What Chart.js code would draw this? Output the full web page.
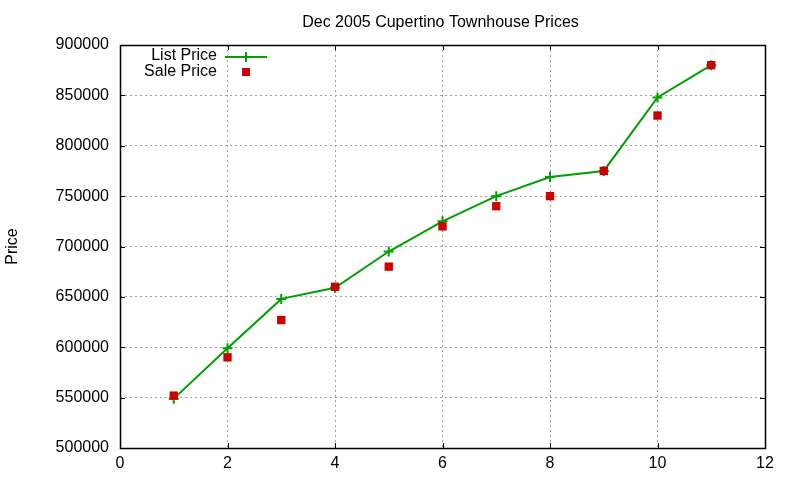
<!DOCTYPE html>
<html>
<head>
<meta charset="utf-8">
<script src="https://cdn.jsdelivr.net/npm/chart.js@4.4.1/dist/chart.umd.min.js"></script>
<style>
  html, body { margin: 0; padding: 0; background: #ffffff; }
  #wrap { width: 800px; height: 480px; }
</style>
</head>
<body>
<div id="wrap"><canvas id="c" width="800" height="480"></canvas></div>
<script>
// ---- data ----
const months = [1, 2, 3, 4, 5, 6, 7, 8, 9, 10, 11];
const listPrice = [549000, 599000, 648000, 659000, 695000, 725000, 750000, 769000, 775000, 848000, 880000];
const salePrice = [552000, 590000, 627000, 660000, 680000, 720000, 740000, 750000, 775000, 830000, 880000];
const chartTitle = 'Dec 2005 Cupertino Townhouse Prices';
const yTitle = 'Price';
const seriesNames = ['List Price', 'Sale Price'];

const GREEN = '#00a000';
const RED = '#cc0000';
const FONT = 'Liberation Sans, Arial, sans-serif';
const FS = 16;

const bgPlugin = {
  id: 'bg',
  beforeDraw(chart) {
    const ctx = chart.ctx;
    ctx.save();
    ctx.fillStyle = '#ffffff';
    ctx.fillRect(0, 0, chart.width, chart.height);
    ctx.restore();
  }
};

const framePlugin = {
  id: 'frame',
  afterDatasetsDraw(chart) {
    const ctx = chart.ctx;
    const a = chart.chartArea;
    const xs = chart.scales.x, ys = chart.scales.y;
    ctx.save();
    ctx.strokeStyle = '#000000';
    ctx.lineWidth = 1;
    ctx.beginPath();
    ys.ticks.forEach(t => {
      const py = Math.round(ys.getPixelForValue(t.value)) + 0.5;
      ctx.moveTo(a.left, py); ctx.lineTo(a.left + 5, py);
      ctx.moveTo(a.right, py); ctx.lineTo(a.right - 5, py);
    });
    xs.ticks.forEach(t => {
      const px = Math.round(xs.getPixelForValue(t.value)) + 0.5;
      ctx.moveTo(px, a.bottom); ctx.lineTo(px, a.bottom - 5);
      ctx.moveTo(px, a.top); ctx.lineTo(px, a.top + 5);
    });
    ctx.stroke();
    ctx.lineWidth = 1.5;
    ctx.strokeRect(Math.round(a.left) + 0.5, Math.round(a.top) + 0.5,
                   Math.round(a.right - a.left), Math.round(a.bottom - a.top));
    // title centred over the plot area
    ctx.fillStyle = '#000000';
    ctx.font = FS + 'px ' + FONT;
    ctx.textAlign = 'center';
    ctx.textBaseline = 'alphabetic';
    ctx.fillText(chartTitle, (a.left + a.right) / 2 - 2, 26.5);
    // legend (inside, top-left)
    ctx.textAlign = 'right';
    ctx.fillText(seriesNames[0], 217, 60);
    ctx.fillText(seriesNames[1], 217, 76);
    ctx.strokeStyle = GREEN;
    ctx.lineWidth = 2;
    ctx.beginPath();
    ctx.moveTo(225, 57); ctx.lineTo(267, 57);
    ctx.moveTo(246, 52); ctx.lineTo(246, 62);
    ctx.stroke();
    ctx.fillStyle = RED;
    ctx.fillRect(242, 68, 8, 8);
    ctx.restore();
  }
};

new Chart(document.getElementById('c'), {
  type: 'line',
  data: {
    datasets: [
      {
        label: seriesNames[0],
        data: months.map((m, i) => ({ x: m, y: listPrice[i] })),
        borderColor: GREEN,
        backgroundColor: GREEN,
        borderWidth: 2,
        pointStyle: 'cross',
        pointRadius: 5,
        pointBorderWidth: 2,
        pointBorderColor: GREEN,
        tension: 0,
        fill: false,
        order: 1
      },
      {
        label: seriesNames[1],
        data: months.map((m, i) => ({ x: m, y: salePrice[i] })),
        showLine: false,
        pointStyle: 'rect',
        pointRadius: 5.9,
        pointBorderWidth: 0,
        backgroundColor: RED,
        pointBackgroundColor: RED,
        borderColor: RED,
        order: 0
      }
    ]
  },
  options: {
    responsive: false,
    animation: false,
    devicePixelRatio: 1,
    layout: { padding: { left: 0, right: 35, top: 45, bottom: 0 } },
    plugins: {
      legend: { display: false },
      title: { display: false },
      tooltip: { enabled: false }
    },
    scales: {
      x: {
        type: 'linear',
        min: 0, max: 12,
        ticks: { stepSize: 2, color: '#000', padding: 6, font: { family: FONT, size: FS }, autoSkip: false, maxRotation: 0,
                 callback: v => String(v) },
        grid: {
          drawTicks: false,
          color: c => (c.tick && (c.tick.value === 0 || c.tick.value === 12)) ? 'rgba(0,0,0,0)' : '#a0a0a0',
          lineWidth: 1
        },
        border: { display: false, dash: [2, 3] },
        afterFit(s) { s.height = 32; }
      },
      y: {
        type: 'linear',
        min: 500000, max: 900000,
        ticks: { stepSize: 50000, color: '#000', padding: 11, font: { family: FONT, size: FS },
                 callback: v => String(v) },
        grid: {
          drawTicks: false,
          color: c => (c.tick && (c.tick.value === 500000 || c.tick.value === 900000)) ? 'rgba(0,0,0,0)' : '#a0a0a0',
          lineWidth: 1
        },
        border: { display: false, dash: [2, 3] },
        title: { display: true, text: yTitle, color: '#000', font: { family: FONT, size: FS }, padding: { top: 3, bottom: 3 } },
        afterFit(s) { s.width = 120; }
      }
    }
  },
  plugins: [bgPlugin, framePlugin]
});
</script>
</body>
</html>
